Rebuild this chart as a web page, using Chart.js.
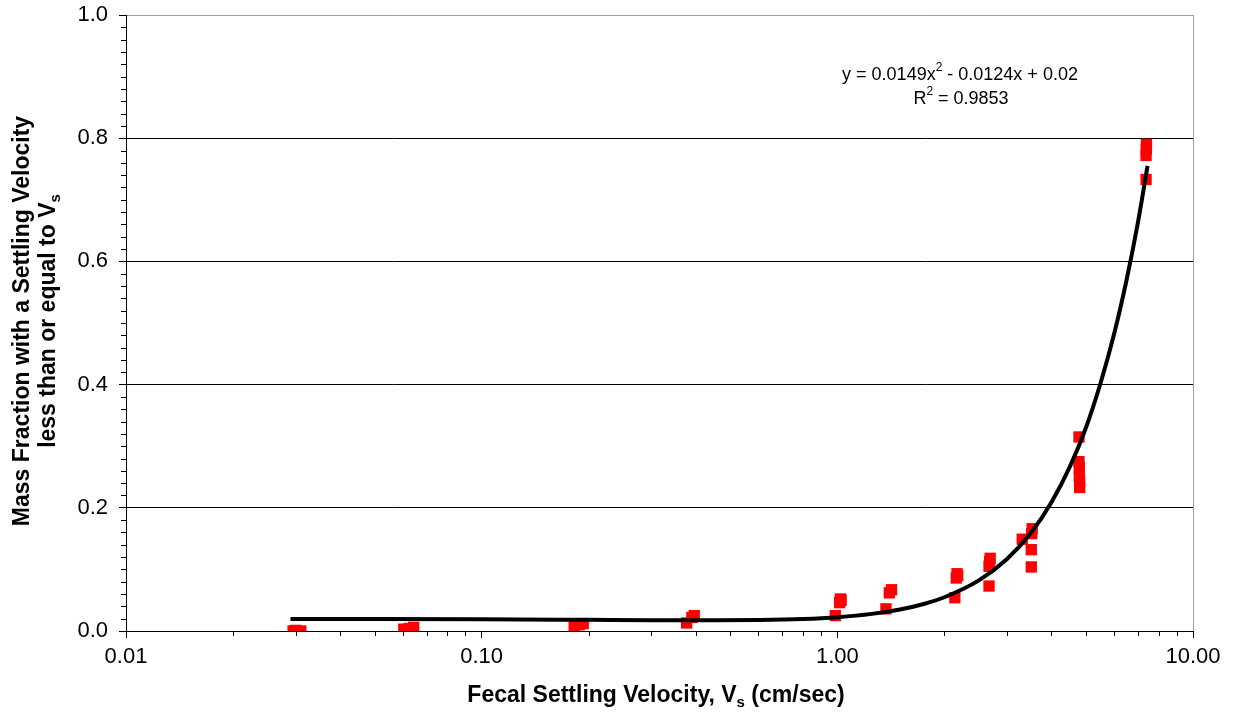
<!DOCTYPE html>
<html>
<head>
<meta charset="utf-8">
<script src="https://cdn.jsdelivr.net/npm/chart.js@4.4.1/dist/chart.umd.min.js"></script>
<style>
  body { margin: 0; background: #fff; }
  canvas { display: block; }
</style>
</head>
<body>
<canvas id="c" width="1236" height="721"></canvas>
<script>
// measured points (settling velocity cm/sec, cumulative mass fraction)
const velocity = [
  0.0295, 0.0300, 0.0310,
  0.0604, 0.0625, 0.0644,
  0.182, 0.188, 0.193,
  0.377, 0.390, 0.396,
  0.987, 1.015, 1.02, 1.025,
  1.37, 1.40, 1.42,
  2.14, 2.16, 2.17, 2.18,
  2.67, 2.67, 2.68, 2.69,
  3.31, 3.51, 3.51, 3.52, 3.53,
  4.78, 4.78, 4.79, 4.79, 4.80, 4.80,
  7.38, 7.38, 7.39, 7.40,
];
const fraction = [
  0.000, 0.001, 0.000,
  0.003, 0.004, 0.006,
  0.008, 0.010, 0.012,
  0.013, 0.022, 0.025,
  0.025, 0.046, 0.052, 0.050,
  0.036, 0.062, 0.067,
  0.054, 0.086, 0.093, 0.090,
  0.073, 0.105, 0.113, 0.118,
  0.149, 0.104, 0.132, 0.158, 0.166,
  0.315, 0.275, 0.265, 0.250, 0.242, 0.233,
  0.733, 0.772, 0.782, 0.790,
];

// trend line
const trendX = [0.029, 0.05, 0.1, 0.2, 0.3, 0.45, 0.6, 0.8, 1.0, 1.25, 1.5, 1.75, 2.0, 2.5, 3.0, 3.5, 4.0, 4.5, 5.0, 5.5, 6.0, 6.5, 7.0, 7.45];
const trendY = [0.0196, 0.0194, 0.0189, 0.0181, 0.0176, 0.0174, 0.0179, 0.0196, 0.0225, 0.0278, 0.0349, 0.0439, 0.0548, 0.0821, 0.117, 0.159, 0.209, 0.266, 0.330, 0.403, 0.482, 0.569, 0.663, 0.755];

const X_TICKS = [0.01, 0.1, 1, 10];
const Y_TICKS = [0, 0.2, 0.4, 0.6, 0.8, 1.0];

const FONT = '"Liberation Sans", Arial, sans-serif';

// draws text pieces with sub/superscripts centred on (cx, cy)
function drawRich(ctx, parts, cx, cy, size, bold) {
  const w = bold ? 'bold ' : '';
  const small = Math.round(size * 0.66);
  let total = 0;
  parts.forEach(p => {
    ctx.font = w + (p.sub || p.sup ? small : size) + 'px ' + FONT;
    p.w = ctx.measureText(p.t).width;
    total += p.w;
  });
  let x = cx - total / 2;
  ctx.textAlign = 'left';
  ctx.textBaseline = 'middle';
  parts.forEach(p => {
    ctx.font = w + (p.sub || p.sup ? small : size) + 'px ' + FONT;
    const dy = p.sub ? size * 0.28 : p.sup ? -size * 0.38 : 0;
    ctx.fillText(p.t, x, cy + dy);
    x += p.w;
  });
}

const decor = {
  id: 'decor',
  afterDraw(chart) {
    const { ctx, chartArea: a, scales: { x, y } } = chart;
    ctx.save();
    ctx.strokeStyle = '#000';
    ctx.lineWidth = 1;
    ctx.beginPath();
    // minor ticks, log x
    for (let i = 0; i < X_TICKS.length - 1; i++) {
      for (let m = 2; m <= 9; m++) {
        const px = Math.round(x.getPixelForValue(X_TICKS[i] * m)) + 0.5;
        ctx.moveTo(px, a.bottom);
        ctx.lineTo(px, a.bottom + 5);
      }
    }
    // minor ticks, y every 0.02
    for (let k = 1; k < 50; k++) {
      if (k % 10 === 0) continue;
      const py = Math.round(y.getPixelForValue(k * 0.02)) + 0.5;
      ctx.moveTo(a.left - 5, py);
      ctx.lineTo(a.left, py);
    }
    ctx.stroke();

    ctx.fillStyle = '#000';
    drawRich(ctx, [{ t: 'Fecal Settling Velocity, V' }, { t: 's', sub: true }, { t: ' (cm/sec)' }], 656, 696, 23, true);

    ctx.save();
    ctx.translate(0, 321);
    ctx.rotate(-Math.PI / 2);
    drawRich(ctx, [{ t: 'Mass Fraction with a Settling Velocity' }], 0, 23, 23, true);
    drawRich(ctx, [{ t: 'less than or equal to V' }, { t: 's', sub: true }], 0, 49, 23, true);
    ctx.restore();

    drawRich(ctx, [{ t: 'y = 0.0149x' }, { t: '2', sup: true }, { t: ' - 0.0124x + 0.02' }], 960, 75, 18, false);
    drawRich(ctx, [{ t: 'R' }, { t: '2', sup: true }, { t: ' = 0.9853' }], 961, 99, 18, false);
    ctx.restore();
  }
};

new Chart(document.getElementById('c'), {
  type: 'scatter',
  data: {
    datasets: [
      {
        type: 'line',
        data: trendX.map((v, i) => ({ x: v, y: trendY[i] })),
        borderColor: '#000',
        borderWidth: 4,
        pointRadius: 0,
        cubicInterpolationMode: 'monotone',
        order: 0,
      },
      {
        data: velocity.map((v, i) => ({ x: v, y: fraction[i] })),
        pointStyle: 'rect',
        pointRadius: 8,
        backgroundColor: '#ff0000',
        borderWidth: 0,
        order: 1,
      },
    ],
  },
  plugins: [decor],
  options: {
    responsive: false,
    animation: false,
    devicePixelRatio: 1,
    layout: { padding: { top: 15, right: 43, left: 0, bottom: 0 } },
    plugins: { legend: { display: false }, tooltip: { enabled: false } },
    scales: {
      x: {
        type: 'logarithmic',
        min: 0.01, max: 10,
        afterBuildTicks: s => { s.ticks = X_TICKS.map(v => ({ value: v })); },
        afterFit: s => { s.height = 90; s.paddingLeft = 0; s.paddingRight = 0; },
        ticks: {
          color: '#000', padding: 6,
          font: { family: FONT, size: 22 },
          callback: v => Number(v).toFixed(2),
          maxRotation: 0, autoSkip: false,
        },
        grid: {
          color: c => (c.tick && c.tick.value === 10 ? '#a0a0a0' : 'rgba(0,0,0,0)'),
          tickColor: '#000', tickLength: 7,
        },
        border: { color: '#000', width: 1 },
      },
      y: {
        min: 0, max: 1,
        afterBuildTicks: s => { s.ticks = Y_TICKS.map(v => ({ value: v })); },
        afterFit: s => { s.width = 126; s.paddingTop = 0; s.paddingBottom = 0; },
        ticks: {
          color: '#000', padding: 11,
          font: { family: FONT, size: 22 },
          callback: v => Number(v).toFixed(1),
        },
        grid: {
          color: c => (c.tick && c.tick.value === 1 ? '#a0a0a0' : '#000'),
          tickColor: '#000', tickLength: 7,
        },
        border: { color: '#000', width: 1 },
      },
    },
  },
});
</script>
</body>
</html>
